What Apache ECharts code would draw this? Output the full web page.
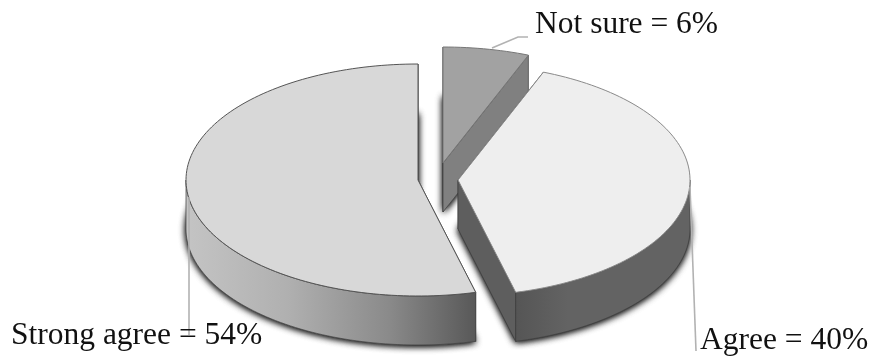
<!DOCTYPE html>
<html>
<head>
<meta charset="utf-8">
<style>html,body{margin:0;padding:0;background:#fff}#chart{width:871px;height:358px}</style>
<script src="https://cdn.jsdelivr.net/npm/echarts@6/dist/echarts.min.js"></script>
</head>
<body>
<div id="chart"></div>
<script>
// Slices run clockwise from twelve o'clock.
const categories = ['Not sure', 'Agree', 'Strong agree'];
const percentages = [6, 40, 54];

// Projected pie geometry.
const RX = 232, RY = 116, DEPTH = 49;
const sliceCentres = [[443, 163], [458, 180], [418, 180]];
const topColours = ['#a2a2a2', '#eeeeee', '#d8d8d8'];
const outlineColours = ['#777777', '#8a8a8a', '#555555'];
const wallColours = ['#808080', '#5e5e5e', '#8a8a8a'];
const labelAnchors = [[535, 25], [700, 341], [11, 336]];
const leaderPaths = [
  [[492, 48], [518, 37], [528, 37]],
  [[690, 187], [696, 351]],
  [[189, 197], [189, 335]]
];

const total = percentages.reduce((a, b) => a + b, 0);
const starts = [];
percentages.reduce((acc, v, i) => { starts[i] = acc; return acc + v; }, 0);

function rimPoint(c, deg, dy) {
  const r = deg * Math.PI / 180;
  return [c[0] + RX * Math.sin(r), c[1] - RY * Math.cos(r) + dy];
}
function arc(c, from, to, dy) {
  const pts = [];
  const n = Math.max(2, Math.ceil((to - from) / 1.5));
  for (let i = 0; i <= n; i++) pts.push(rimPoint(c, from + (to - from) * i / n, dy));
  return pts;
}
function wallFill(i) {
  if (i === 2) {
    return new echarts.graphic.LinearGradient(186, 0, 476, 0, [
      { offset: 0, color: '#c4c4c4' },
      { offset: 0.35, color: '#b0b0b0' },
      { offset: 0.7, color: '#8a8a8a' },
      { offset: 1, color: '#585858' }
    ], true);
  }
  if (i === 1) {
    return new echarts.graphic.LinearGradient(515, 0, 690, 0, [
      { offset: 0, color: '#555555' },
      { offset: 0.3, color: '#636363' },
      { offset: 1, color: '#636363' }
    ], true);
  }
  return wallColours[i];
}

function renderSlice(params, api) {
  const i = params.dataIndex;
  const c = sliceCentres[i];
  const from = api.value(1) / total * 360;
  const to = from + api.value(0) / total * 360;
  const children = [];
  const edge = { stroke: '#3c3c3c', lineWidth: 0.7 };

  // Base of the slice, carrying the soft drop shadow; drawn twice to deepen it.
  for (let k = 0; k < 2; k++) {
    children.push({
      type: 'polygon',
      shape: { points: [[c[0], c[1] + DEPTH]].concat(arc(c, from, to, DEPTH)) },
      style: { fill: wallColours[i], shadowColor: 'rgba(0,0,0,0.85)', shadowBlur: 7, shadowOffsetY: 1 }
    });
  }

  // Cut faces, then the part of the curved face that looks toward the viewer.
  [from, to].forEach(function (deg) {
    const p = rimPoint(c, deg, 0);
    children.push({
      type: 'polygon',
      shape: { points: [c, p, [p[0], p[1] + DEPTH], [c[0], c[1] + DEPTH]] },
      style: Object.assign({ fill: wallColours[i] }, edge)
    });
  });
  const frontFrom = Math.max(from, 90), frontTo = Math.min(to, 270);
  if (frontTo > frontFrom) {
    children.push({
      type: 'polygon',
      shape: { points: arc(c, frontFrom, frontTo, 0).concat(arc(c, frontFrom, frontTo, DEPTH).reverse()) },
      style: Object.assign({ fill: wallFill(i) }, edge)
    });
  }

  // Top face.
  children.push({
    type: 'polygon',
    shape: { points: [c].concat(arc(c, from, to, 0)) },
    style: { fill: topColours[i], stroke: outlineColours[i], lineWidth: 1, lineJoin: 'miter' }
  });

  // Leader line and label.
  children.push({
    type: 'polyline',
    shape: { points: leaderPaths[i] },
    style: { fill: 'none', stroke: '#b2b2b2', lineWidth: 1.6 }
  });
  children.push({
    type: 'text',
    x: labelAnchors[i][0],
    y: labelAnchors[i][1],
    style: {
      text: categories[i] + ' = ' + api.value(0) + '%',
      fontFamily: '"Liberation Serif"',
      fontSize: 31.5,
      fill: '#111111',
      verticalAlign: 'middle',
      align: 'left'
    }
  });
  return { type: 'group', children: children };
}

const chart = echarts.init(document.getElementById('chart'), null, { renderer: 'canvas' });
chart.setOption({
  animation: false,
  backgroundColor: '#ffffff',
  series: [{
    type: 'custom',
    coordinateSystem: 'none',
    renderItem: renderSlice,
    silent: true,
    data: percentages.map((v, i) => ({ name: categories[i], value: [v, starts[i]] }))
  }]
});
</script>
</body>
</html>
